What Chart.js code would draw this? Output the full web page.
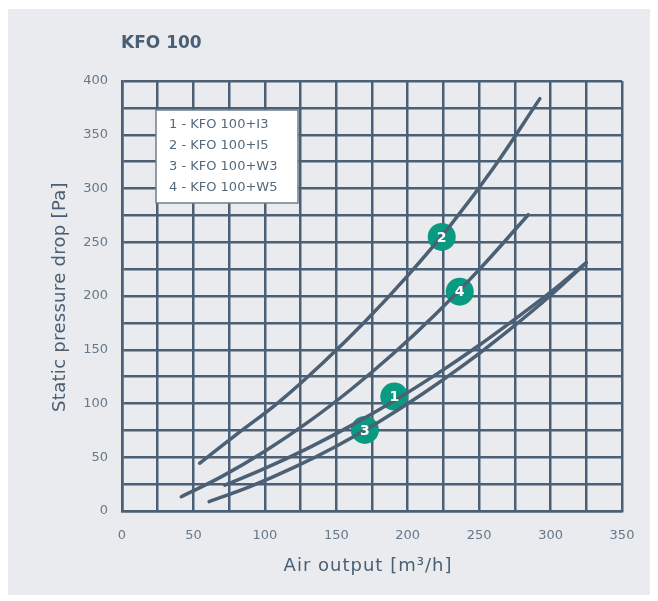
<!DOCTYPE html>
<html>
<head>
<meta charset="utf-8">
<script src="https://cdn.jsdelivr.net/npm/chart.js@4/dist/chart.umd.min.js"></script>
<style>
html,body{margin:0;padding:0;background:#ffffff;}
#wrap{width:658px;height:601px;position:relative;}
</style>
</head>
<body>
<div id="wrap"><canvas id="c" width="658" height="601"></canvas></div>
<script>
// ---- Data ----
const chartTitle = 'KFO 100';
const xAxisTitle = 'Air output [m\u00B3/h]';
const yAxisTitle = 'Static pressure drop [Pa]';
const seriesNames = ['1 - KFO 100+I3', '2 - KFO 100+I5', '3 - KFO 100+W3', '4 - KFO 100+W5'];

const curve1X = [72, 100, 130, 160, 190, 220, 250, 280, 300, 325];
const curve1Y = [24, 39.6, 58.3, 79.2, 102.1, 127.1, 154.2, 183.4, 203.5, 231];

const curve2X = [54.3, 80, 110, 140, 170, 200, 230, 260, 292.5];
const curve2Y = [44.4, 71, 101.5, 137, 176, 219, 266, 319, 383.6];

const curve3X = [61, 90, 120, 150, 180, 210, 240, 270, 300, 325];
const curve3Y = [8.7, 22.9, 40.3, 60.3, 83.1, 108.6, 136.6, 167.4, 200.5, 231];

const curve4X = [41.5, 70, 100, 130, 160, 190, 220, 250, 284.4];
const curve4Y = [13.3, 32.2, 55.6, 82.4, 112.8, 146.5, 183.8, 224.5, 275.6];

const markerLabels = ['1', '2', '3', '4'];
const markerX = [190.6, 223.8, 170, 236.4];
const markerY = [106.4, 255, 75.4, 204];

const xTickLabels = [0, 50, 100, 150, 200, 250, 300, 350];
const yTickLabels = [0, 50, 100, 150, 200, 250, 300, 350, 400];

// ---- Styles ----
const INK = '#4b6074';
const TICK = '#65788a';
const GREEN = '#0a9a82';
const FONT = "'DejaVu Sans', 'Open Sans', sans-serif";

function pts(xs, ys){ return xs.map((x,i)=>({x:x, y:ys[i]})); }
const curves = [[curve1X,curve1Y],[curve2X,curve2Y],[curve3X,curve3Y],[curve4X,curve4Y]];

const datasets = curves.map((c,i)=>({
  label: seriesNames[i],
  data: pts(c[0], c[1]),
  showLine: true,
  borderColor: INK,
  borderWidth: 3.5,
  pointRadius: 0,
  tension: 0.4,
  borderCapStyle: 'round',
  fill: false
}));
datasets.push({
  label: 'markers',
  data: pts(markerX, markerY),
  showLine: false,
  pointRadius: 14,
  pointHoverRadius: 14,
  pointBackgroundColor: GREEN,
  pointBorderWidth: 0,
  borderWidth: 0
});

const decor = {
  id: 'decor',
  beforeDraw(chart){
    const ctx = chart.ctx;
    ctx.save();
    ctx.fillStyle = '#ffffff';
    ctx.fillRect(0,0,chart.width,chart.height);
    ctx.fillStyle = '#e9ebef';
    ctx.fillRect(8,9,642,586);
    ctx.restore();
  },
  afterDatasetsDraw(chart){
    const ctx = chart.ctx;
    const meta = chart.getDatasetMeta(4);
    ctx.save();
    ctx.fillStyle = '#ffffff';
    ctx.font = "bold 14px " + FONT;
    ctx.textAlign = 'center';
    ctx.textBaseline = 'middle';
    meta.data.forEach((el,i)=>{ ctx.fillText(markerLabels[i], el.x, el.y+1); });
    ctx.restore();
  },
  afterDraw(chart){
    const ctx = chart.ctx;
    ctx.save();
    // Title
    ctx.fillStyle = '#4a5f73';
    ctx.font = "bold 17px " + FONT;
    ctx.textAlign = 'left';
    ctx.textBaseline = 'middle';
    ctx.fillText(chartTitle, 121, 44);
    // Axis titles
    ctx.font = "18px " + FONT;
    ctx.textAlign = 'center';
    ctx.letterSpacing = '1px';
    ctx.fillText(xAxisTitle, 368, 566);
    ctx.letterSpacing = '0.3px';
    ctx.translate(60, 297);
    ctx.rotate(-Math.PI/2);
    ctx.fillText(yAxisTitle, 0, 0);
    ctx.restore();
    // Legend box
    ctx.save();
    ctx.fillStyle = '#ffffff';
    ctx.fillRect(156, 110, 142, 93);
    ctx.strokeStyle = '#6d7f8f';
    ctx.lineWidth = 1.5;
    ctx.strokeRect(156, 110, 142, 93);
    ctx.fillStyle = '#55697c';
    ctx.font = "13px " + FONT;
    ctx.textAlign = 'left';
    ctx.textBaseline = 'middle';
    seriesNames.forEach((s,i)=>{ ctx.fillText(s, 169, 125 + i*21); });
    ctx.restore();
  }
};

new Chart(document.getElementById('c'), {
  type: 'scatter',
  data: { datasets: datasets },
  options: {
    responsive: false,
    animation: false,
    events: [],
    layout: { padding: { left: 0, right: 36, top: 81, bottom: 0 } },
    plugins: { legend: { display: false }, tooltip: { enabled: false }, title: { display: false } },
    scales: {
      x: {
        type: 'linear', min: 0, max: 350,
        afterFit(s){ s.height = 90; },
        afterBuildTicks(s){ const t=[]; for(let v=0; v<=350; v+=25) t.push({value:v}); s.ticks = t; },
        ticks: {
          autoSkip: false, maxRotation: 0,
          color: TICK, font: { family: FONT, size: 13 }, padding: 17,
          callback: (v)=> xTickLabels.includes(v) ? String(v) : ''
        },
        grid: { color: INK, lineWidth: 2.5, drawTicks: false, tickLength: 0 },
        border: { color: INK, width: 2.5 }
      },
      y: {
        type: 'linear', min: 0, max: 400,
        afterFit(s){ s.width = 122; },
        afterBuildTicks(s){ const t=[]; for(let v=0; v<=400; v+=25) t.push({value:v}); s.ticks = t; },
        ticks: {
          autoSkip: false,
          color: TICK, font: { family: FONT, size: 13 }, padding: 14,
          callback: (v)=> yTickLabels.includes(v) ? String(v) : ''
        },
        grid: { color: INK, lineWidth: 2.5, drawTicks: false, tickLength: 0 },
        border: { color: INK, width: 2.5 }
      }
    }
  },
  plugins: [decor]
});
</script>
</body>
</html>
